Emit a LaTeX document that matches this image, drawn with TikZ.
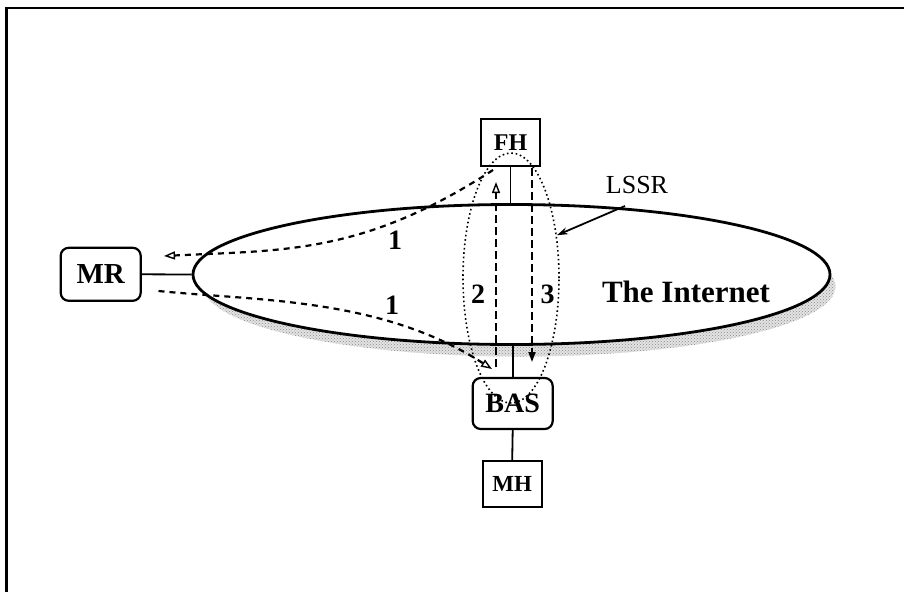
\documentclass[tikz,border=0pt]{standalone}
\usepackage{fontspec}
\setmainfont{Liberation Serif}
\usetikzlibrary{shapes.geometric,arrows.meta,patterns}
\begin{document}
\begin{tikzpicture}[x=1pt,y=-1pt,
  box/.style={draw,line width=2.2pt,inner sep=0pt},
  rbox/.style={box,rounded corners=8pt},
  link/.style={line width=1.8pt},
  flow/.style={line width=2.2pt,dash pattern=on 6pt off 5pt},
  vflow/.style={line width=1.8pt,dash pattern=on 8pt off 4pt},
  openhead/.style={-{Triangle[open,length=11pt,width=8pt,line width=1.4pt]}},
  fullhead/.style={-{Triangle[length=10pt,width=7pt]}},
  num/.style={font=\fontsize{28}{28}\selectfont\bfseries},
  lbl/.style={font=\fontsize{#1}{#1}\selectfont\bfseries},
]
\useasboundingbox (0,0) rectangle (904,592);
% page frame
\draw[line width=2.2pt] (6.5,592) -- (6.5,8) -- (904,8);

% stippled shadow under the cloud
\fill[gray!22] (519.5,286.5) ellipse [x radius=316pt,y radius=70pt];
\path[pattern=crosshatch dots,pattern color=gray!90] (519.5,286.5) ellipse [x radius=316pt,y radius=70pt];
% the Internet
\node[ellipse,draw,fill=white,line width=2.8pt,minimum width=637pt,minimum height=140pt,inner sep=0pt] (net) at (511.5,274.5) {};
\node[lbl=31] (inet) at (686,292) {The Internet};

% hosts and routers
\node[box,lbl=24,minimum width=59pt,minimum height=47pt] (FH) at (510.5,142.5) {FH};
\node[rbox,lbl=29,minimum width=80pt,minimum height=53pt] (MR) at (100.7,274.3) {MR};
\node[rbox,lbl=28,minimum width=80pt,minimum height=51pt] (BAS) at (512.7,403.5) {BAS};
\node[box,lbl=23,minimum width=59pt,minimum height=46pt] (MH) at (512.2,484) {MH};

% attachments
\draw[link] (FH.south) -- (FH.south |- net.north);
\draw[link] (MR.east) -- (net.west);
\draw[link] (BAS.north) -- (BAS.north |- net.south);
\draw[link] (BAS.south) -- (MH.north);

% loose source route loop
\node[ellipse,draw,line width=1.6pt,dash pattern=on 1.6pt off 2.8pt,minimum width=96pt,minimum height=250pt,inner sep=0pt] (lssr) at (511,278) {};
\node[font=\fontsize{26}{26}\selectfont] (lssrlabel) at (637,185) {LSSR};
\coordinate (lt) at (625,206);
\draw[line width=1.8pt,-{Stealth[length=11pt,width=7pt]}] (lt) -- (lssr.43);

% step 1 paths
\coordinate (u0) at (493,170);
\coordinate (u1) at (164,256);
\draw[flow,openhead] (u0) .. controls (363,254.5) and (284,250) .. (u1);
\coordinate (l0) at (158.5,291);
\coordinate (l1) at (492,369);
\draw[flow,openhead] (l0) .. controls (258.5,301) and (381,297.5) .. (l1);

% steps 2 and 3
\coordinate (a2) at (496,367);
\coordinate (b2) at (496,182);
\draw[vflow,openhead] (a2) -- (b2);
\coordinate (a3) at (532,168);
\coordinate (b3) at (532,362);
\draw[vflow,fullhead] (a3) -- (b3);

\node[num] (n1a) at (395,240) {1};
\node[num] (n1b) at (392,305) {1};
\node[num] (n2) at (478,294) {2};
\node[num] (n3) at (547.5,294) {3};
\end{tikzpicture}
\end{document}
